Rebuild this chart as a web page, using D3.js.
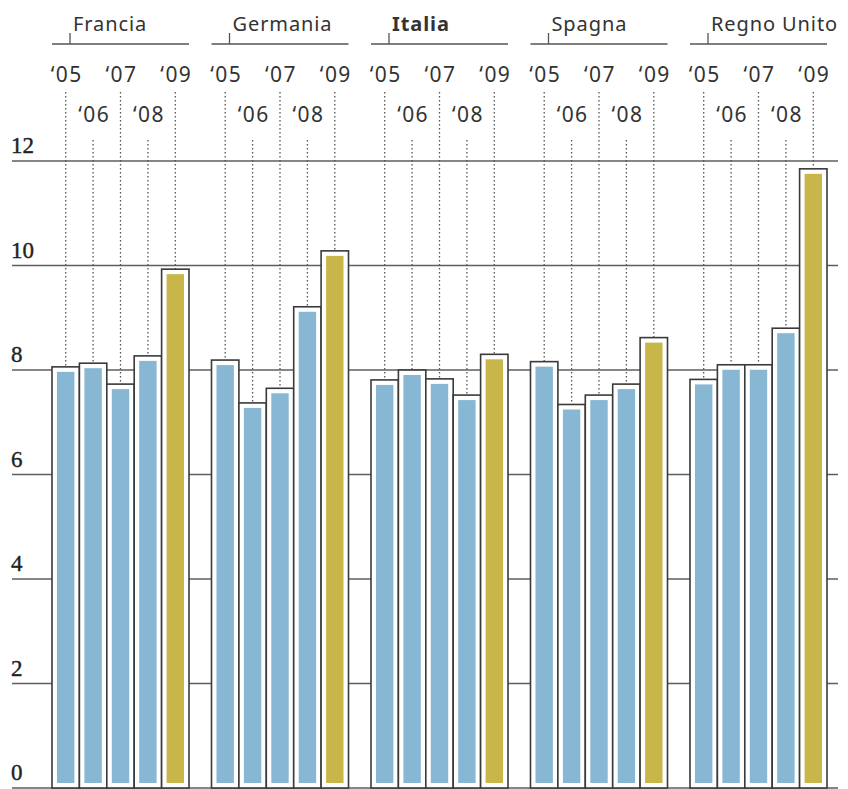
<!DOCTYPE html>
<html>
  <head>
    <meta charset="utf-8">
    <title>Chart</title>
    <script src="https://d3js.org/d3.v7.min.js"></script>
    <style>
      body { margin: 0; background: #fff; }
      svg { display: block; }
    </style>
  </head>
  <body>
    <script type="text/javascript">
      var countries = ['Francia', 'Germania', 'Italia', 'Spagna', 'Regno Unito'];
      var years = ['‘05', '‘06', '‘07', '‘08', '‘09'];
      var francia = [8.06, 8.13, 7.73, 8.27, 9.93];
      var germania = [8.19, 7.37, 7.65, 9.21, 10.28];
      var italia = [7.81, 8.00, 7.83, 7.52, 8.30];
      var spagna = [8.16, 7.34, 7.52, 7.73, 8.62];
      var regnoUnito = [7.82, 8.10, 8.10, 8.80, 11.85];
      var yTicks = [0, 2, 4, 6, 8, 10, 12];

      var series = [francia, germania, italia, spagna, regnoUnito];
      var blue = '#87b7d3', gold = '#c8b64a', dark = '#3a3a3a';

      var svg = d3.select('body')
                  .append('svg')
                  .attr('width', 848)
                  .attr('height', 789);

      var x = d3.scaleBand()
                .domain(countries)
                .range([52, 827])
                .paddingInner(0.141)
                .paddingOuter(0);
      var xi = d3.scaleBand()
                 .domain(years)
                 .range([0, x.bandwidth()])
                 .padding(0);
      var y = d3.scaleLinear()
                .domain([0, 12])
                .range([788, 161]);

      // gridlines (bars are white so they hide them)
      svg.append('g')
         .selectAll('line')
         .data(yTicks)
         .enter()
           .append('line')
           .attr('x1', 12)
           .attr('x2', 838)
           .attr('y1', function(d) { return y(d); })
           .attr('y2', function(d) { return y(d); })
           .attr('stroke', '#5e5e5e')
           .attr('stroke-width', 1.6);

      svg.append('g')
         .selectAll('text')
         .data(yTicks)
         .enter()
           .append('text')
           .attr('x', 11)
           .attr('y', function(d) { return y(d) - 8; })
           .attr('font-family', 'Liberation Serif, serif')
           .attr('font-size', 23)
           .attr('fill', '#222')
           .attr('stroke', '#222')
           .attr('stroke-width', 0.4)
           .text(function(d) { return d; });

      var groups = svg.selectAll('g.country')
                      .data(countries)
                      .enter()
                        .append('g')
                        .attr('class', 'country')
                        .attr('transform', function(d) { return 'translate(' + x(d) + ',0)'; });

      // country header
      groups.append('line')
            .attr('x1', 0)
            .attr('x2', x.bandwidth())
            .attr('y1', 44)
            .attr('y2', 44)
            .attr('stroke', '#555')
            .attr('stroke-width', 1.6);
      groups.append('line')
            .attr('x1', 18)
            .attr('x2', 18)
            .attr('y1', 33)
            .attr('y2', 44)
            .attr('stroke', '#555')
            .attr('stroke-width', 1.3);
      groups.append('text')
            .attr('x', 21)
            .attr('y', 31)
            .attr('font-family', 'Noto Sans, sans-serif')
            .attr('font-size', 20)
            .attr('letter-spacing', 0.9)
            .attr('font-weight', function(d) { return d === 'Italia' ? 'bold' : 'normal'; })
            .attr('fill', '#333')
            .text(function(d) { return d; });

      var cells = groups.selectAll('g.year')
                        .data(function(d, i) {
                          return years.map(function(yr, j) { return { year: yr, j: j, value: series[i][j] }; });
                        })
                        .enter()
                          .append('g')
                          .attr('class', 'year');

      // dotted leaders
      cells.append('line')
           .attr('x1', function(d) { return xi(d.year) + xi.bandwidth() / 2; })
           .attr('x2', function(d) { return xi(d.year) + xi.bandwidth() / 2; })
           .attr('y1', function(d) { return d.j % 2 === 0 ? 92 : 140; })
           .attr('y2', function(d) { return y(d.value); })
           .attr('stroke', '#555')
           .attr('stroke-width', 1.3)
           .attr('stroke-dasharray', '1.5,2.5');

      cells.append('text')
           .attr('x', function(d) { return xi(d.year) + xi.bandwidth() / 2 + 1; })
           .attr('y', function(d) { return d.j % 2 === 0 ? 82 : 122; })
           .attr('text-anchor', 'middle')
           .attr('font-family', 'Noto Sans, sans-serif')
           .attr('font-size', 21)
           .attr('letter-spacing', 1.4)
           .attr('fill', '#333')
           .text(function(d) { return d.year; });

      // bars: white box with dark outline, coloured core
      cells.append('rect')
           .attr('x', function(d) { return xi(d.year); })
           .attr('y', function(d) { return y(d.value); })
           .attr('width', xi.bandwidth())
           .attr('height', function(d) { return y(0) - y(d.value); })
           .attr('fill', '#fff')
           .attr('stroke', dark)
           .attr('stroke-width', 1.6);
      cells.append('rect')
           .attr('x', function(d) { return xi(d.year) + 5; })
           .attr('y', function(d) { return y(d.value) + 5; })
           .attr('width', xi.bandwidth() - 10)
           .attr('height', function(d) { return y(0) - y(d.value) - 10; })
           .attr('fill', function(d) { return d.j === 4 ? gold : blue; });
    </script>
  </body>
</html>
